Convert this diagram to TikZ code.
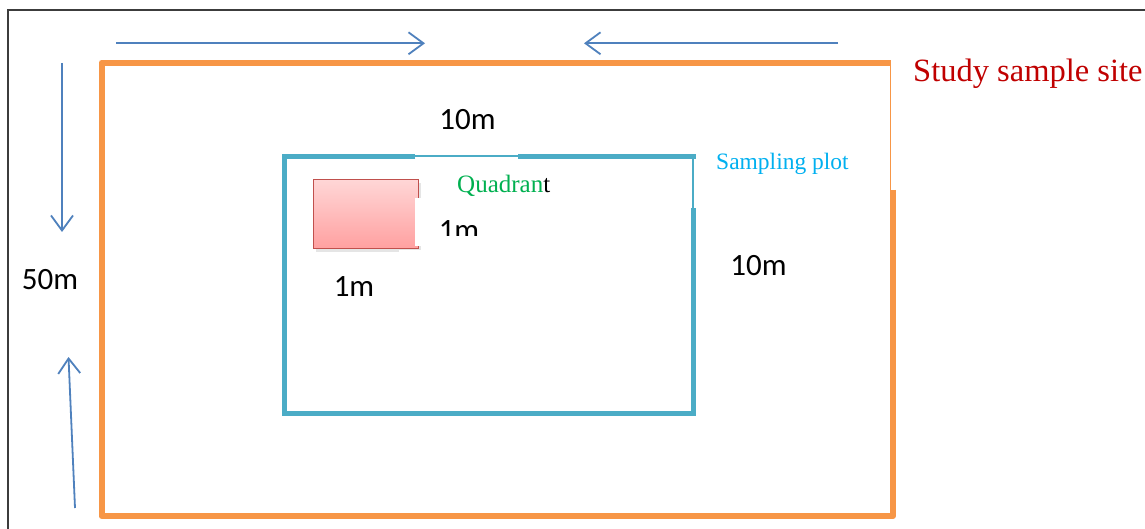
\documentclass[tikz,border=0pt]{standalone}
\usepackage{fontspec}
\setmainfont{Liberation Serif}
\newfontfamily\calib{Carlito}
\usetikzlibrary{arrows.meta}
\definecolor{siteorange}{RGB}{247,150,70}
\definecolor{plotteal}{RGB}{75,172,198}
\definecolor{arrowblue}{RGB}{79,129,189}
\definecolor{framegray}{RGB}{60,60,60}
\definecolor{sitered}{RGB}{192,0,0}
\definecolor{plotblue}{RGB}{0,176,240}
\definecolor{quadgreen}{RGB}{0,176,80}
\definecolor{pinktop}{RGB}{255,214,214}
\definecolor{pinkbot}{RGB}{255,160,160}
\definecolor{pinkedge}{RGB}{192,80,77}
\tikzset{
  dimarrow/.style={draw=arrowblue, line width=1.8pt, -{Straight Barb[length=15pt,width=22pt,line width=1.8pt]}},
  dimlabel/.style={font=\calib\fontsize{31}{31}\selectfont, inner sep=0pt, anchor=base, text=black},
  sitethick/.style={draw=siteorange, line width=6pt, line join=round},
  sitethin/.style={draw=siteorange, line width=1.2pt},
  plotthick/.style={draw=plotteal, line width=5pt, line join=miter},
  plotthin/.style={draw=plotteal, line width=1.2pt},
}
\begin{document}
\begin{tikzpicture}[x=1pt,y=-1pt]
\useasboundingbox (0,0) rectangle (1145,529);
\fill[white] (0,0) rectangle (1145,529);
% outer frame
\draw[framegray, line width=2pt] (8.3,529) -- (8.3,10.5) -- (1145,10.5);

% study site (orange)
\draw[sitethick] (893,190) -- (893,516) -- (101.5,516) -- (101.5,62.7) -- (891,62.7);
\draw[sitethin] (890.5,62.7) -- (890.5,190);

% sampling plot (teal)
\draw[plotthick] (415,157) -- (284.5,157) -- (284.5,413) -- (693,413) -- (693,208);
\draw[plotthick] (518,157) -- (695.5,157);
\draw[plotthin] (415,156) -- (518,156);
\draw[plotthin] (693,157) -- (693,208);

% quadrant (pink)
\fill[gray!40, opacity=0.5] (316,183) rectangle (421,252);
\shade[top color=pinktop, bottom color=pinkbot, draw=pinkedge, line width=1pt] (313.5,180) rectangle (418,249);
\fill[white] (415,198) rectangle (425,246.5);
\fill[white] (399,250) rectangle (425,256);

% arrows
\coordinate (ta1) at (116,43.3);
\coordinate (ta2) at (425,43.3);
\coordinate (tb1) at (838,43.3);
\coordinate (tb2) at (584,43.3);
\coordinate (la1) at (62,63);
\coordinate (la2) at (62,232);
\coordinate (lb1) at (75,508);
\coordinate (lb2) at (68.5,357);
\draw[dimarrow] (ta1) -- (ta2);
\draw[dimarrow] (tb1) -- (tb2);
\draw[dimarrow] (la1) -- (la2);
\draw[dimarrow] (lb1) -- (lb2);

% labels
\node[dimlabel] (top10) at (467.5,130) {10m};
\node[dimlabel] (right10) at (758.5,275.5) {10m};
\node[dimlabel] (left50) at (50,289) {50m};
\node[dimlabel] (below1) at (354,296) {1m};
\begin{scope}
\clip (425,200) rectangle (500,236);
\node[dimlabel] (side1) at (459,241) {1m};
\end{scope}
\node[inner sep=0pt, anchor=base west, text=sitered, font=\fontsize{32.5}{32.5}\selectfont] (site) at (913,82) {Study sample site};
\node[inner sep=0pt, anchor=base west, text=plotblue, font=\fontsize{23.5}{23.5}\selectfont] (plot) at (716,170) {Sampling plot};
\node[inner sep=0pt, anchor=base west, font=\fontsize{25}{25}\selectfont] (quad) at (457,193) {\textcolor{quadgreen}{Quadran}t};
\end{tikzpicture}
\end{document}
